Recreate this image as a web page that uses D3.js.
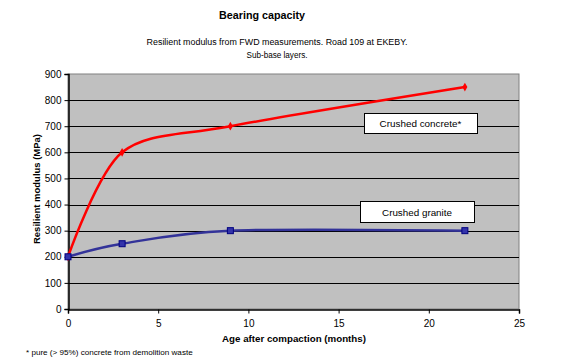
<!DOCTYPE html>
<html><head><meta charset="utf-8">
<script src="https://cdn.jsdelivr.net/npm/d3@7"></script>
<style>body{margin:0;background:#fff}svg{display:block;font-family:"Liberation Sans",Arial,sans-serif}</style>
</head><body><svg id="c" width="585" height="359"></svg>
<script>
const months = [0, 3, 9, 22];
const concrete = [200, 600, 700, 850];
const granite = [200, 250, 300, 300];
const xTicks = [0, 5, 10, 15, 20, 25];
const yTicks = [0, 100, 200, 300, 400, 500, 600, 700, 800, 900];

const svg = d3.select("#c");
const L = 68, R = 519, T = 74, B = 309;
const x = d3.scaleLinear().domain([0, 25]).range([L, R]);
const y = d3.scaleLinear().domain([0, 900]).range([B, T]);

// fit text to a measured target width by adjusting font size
function fit(sel, w) {
  const n = sel.node();
  const fs = parseFloat(sel.attr("font-size"));
  const len = n.getComputedTextLength();
  if (len > 0) sel.attr("font-size", (fs * w / len).toFixed(2));
  return sel;
}

svg.append("rect").attr("x", L).attr("y", T).attr("width", R - L).attr("height", B - T)
  .attr("fill", "#c0c0c0").attr("stroke", "#808080").attr("stroke-width", 1);

svg.append("g").selectAll("line").data(yTicks.filter(d => d > 0 && d < 900)).join("line")
  .attr("x1", L).attr("x2", R).attr("y1", d => Math.round(y(d)) + 0.5).attr("y2", d => Math.round(y(d)) + 0.5)
  .attr("stroke", "#000").attr("stroke-width", 1);

const ya = svg.append("g").attr("transform", `translate(${L + 0.5},0)`)
  .call(d3.axisLeft(y).tickValues(yTicks).tickSize(4).tickPadding(3).tickFormat(d3.format("d")));
const xa = svg.append("g").attr("transform", `translate(0,${B + 0.5})`)
  .call(d3.axisBottom(x).tickValues(xTicks).tickSize(4).tickPadding(6).tickFormat(d3.format("d")));
[ya, xa].forEach(a => {
  a.select(".domain").attr("stroke", "#000").attr("stroke-width", 1.5);
  a.selectAll(".tick line").attr("stroke", "#000");
  a.selectAll("text").attr("font-size", 10).attr("fill", "#000").attr("font-family", "Liberation Sans, Arial, sans-serif");
});

const line = d3.line().x((d, i) => x(months[i])).y(d => y(d)).curve(d3.curveCardinal.tension(0.1));

svg.append("path").attr("d", line(concrete)).attr("fill", "none").attr("stroke", "#ff0000").attr("stroke-width", 2.5);
svg.append("g").selectAll("path").data(concrete).join("path")
  .attr("d", d3.symbol().type(d3.symbolDiamond).size(22))
  .attr("transform", (d, i) => `translate(${x(months[i])},${y(d)})`)
  .attr("fill", "#ff0000");

svg.append("path").attr("d", line(granite)).attr("fill", "none").attr("stroke", "#333399").attr("stroke-width", 2.5);
svg.append("g").selectAll("rect").data(granite).join("rect")
  .attr("x", (d, i) => x(months[i]) - 3).attr("y", d => y(d) - 3).attr("width", 6).attr("height", 6)
  .attr("fill", "#3333aa").attr("stroke", "#000080").attr("stroke-width", 1);

function box(x0, y0, w, h, t, tw) {
  svg.append("rect").attr("x", x0 + 0.5).attr("y", y0 + 0.5).attr("width", w).attr("height", h)
    .attr("fill", "#fff").attr("stroke", "#000").attr("stroke-width", 1);
  fit(svg.append("text").attr("x", x0 + w / 2).attr("y", y0 + h / 2 + 4).attr("text-anchor", "middle")
    .attr("font-size", 10).text(t), tw);
}
box(364, 113, 113, 20, "Crushed concrete*", 82);
box(360, 201, 114, 21, "Crushed granite", 70);

fit(svg.append("text").attr("x", 262).attr("y", 19).attr("text-anchor", "middle").attr("font-size", 12).attr("font-weight", "bold").text("Bearing capacity"), 86);
fit(svg.append("text").attr("x", 277).attr("y", 45).attr("text-anchor", "middle").attr("font-size", 10).text("Resilient modulus from FWD measurements. Road 109 at EKEBY."), 261);
fit(svg.append("text").attr("x", 277).attr("y", 58).attr("text-anchor", "middle").attr("font-size", 10).text("Sub-base layers."), 61);
fit(svg.append("text").attr("transform", `translate(40,189) rotate(-90)`).attr("text-anchor", "middle")
  .attr("font-size", 10).attr("font-weight", "bold").text("Resilient modulus (MPa)"), 110);
fit(svg.append("text").attr("x", 294).attr("y", 342).attr("text-anchor", "middle").attr("font-size", 10).attr("font-weight", "bold").text("Age after compaction (months)"), 144);
fit(svg.append("text").attr("x", 26).attr("y", 355).attr("font-size", 8).text("* pure (> 95%) concrete from demolition waste"), 167);
</script></body></html>
